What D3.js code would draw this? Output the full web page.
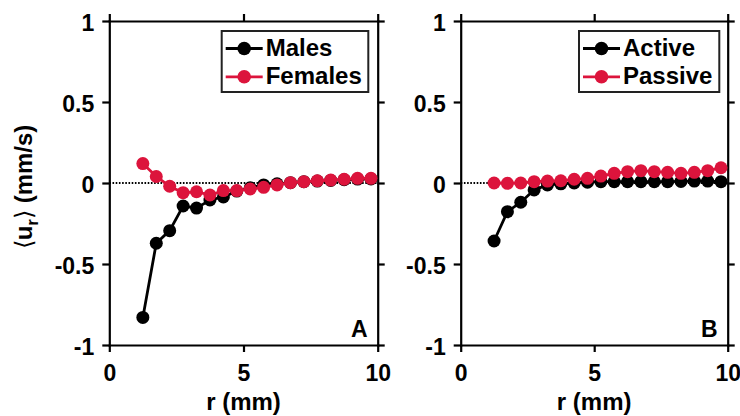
<!DOCTYPE html>
<html>
<head>
<meta charset="utf-8">
<script src="https://cdn.jsdelivr.net/npm/d3@7"></script>
<style>
  body { margin: 0; background: #fff; }
  svg { display: block; font-family: "Liberation Sans", Arial, sans-serif; font-weight: bold; }
</style>
</head>
<body>
<svg id="chart" width="740" height="416"></svg>
<script>
// radial positions (mm)
var radius = [1.25, 1.75, 2.25, 2.75, 3.25, 3.75, 4.25, 4.75, 5.25, 5.75, 6.25, 6.75, 7.25, 7.75, 8.25, 8.75, 9.25, 9.75];

// panel A
var males   = [-0.83, -0.372, -0.294, -0.142, -0.155, -0.105, -0.086, -0.05, -0.03, -0.012, -0.005, 0.002, 0.008, 0.012, 0.016, 0.02, 0.024, 0.025];
var females = [0.12, 0.04, -0.02, -0.06, -0.054, -0.074, -0.047, -0.047, -0.037, -0.027, -0.012, 0.002, 0.008, 0.014, 0.018, 0.023, 0.029, 0.029];

// panel B
var active  = [-0.358, -0.177, -0.119, -0.043, -0.012, -0.005, 0.0, 0.005, 0.008, 0.008, 0.008, 0.008, 0.008, 0.008, 0.01, 0.012, 0.012, 0.008];
var passive = [0.0, -0.002, 0.0, 0.008, 0.012, 0.014, 0.023, 0.029, 0.043, 0.06, 0.07, 0.076, 0.07, 0.066, 0.06, 0.066, 0.076, 0.094];

var xTicks = [0, 5, 10];
var xTickLabels = ["0", "5", "10"];
var yTicks = [-1, -0.5, 0, 0.5, 1];
var yTickLabels = ["-1", "-0.5", "0", "0.5", "1"];

var RED = "#dc143c";
var svg = d3.select("#chart");

var plotTop = 21, plotBottom = 345;
var y = d3.scaleLinear().domain([-1, 1]).range([plotBottom, plotTop]);

function drawPanel(left, right, series, letter, legendBox) {
    var x = d3.scaleLinear().domain([0, 10]).range([left, right]);
    var g = svg.append("g");

    // dotted zero line
    g.append("line")
        .attr("x1", x(0)).attr("x2", x(10))
        .attr("y1", y(0)).attr("y2", y(0))
        .attr("stroke", "#000").attr("stroke-width", 2)
        .attr("stroke-dasharray", "1.6,1.6");

    // axes, ticks outward on all four sides
    function styleAxis(a) {
        a.select(".domain").attr("stroke-width", 2.2).attr("stroke-linecap", "square");
        a.selectAll(".tick line").attr("stroke-width", 2.2);
        a.selectAll("text").attr("font-size", 23).attr("font-family", null).attr("fill", "#000");
    }
    var xFmt = function (d, i) { return xTickLabels[i]; };
    var yFmt = function (d, i) { return yTickLabels[i]; };

    var ax = g.append("g").attr("transform", "translate(0," + plotBottom + ")")
        .call(d3.axisBottom(x).tickValues(xTicks).tickFormat(xFmt).tickSize(7).tickSizeOuter(0).tickPadding(13));
    styleAxis(ax);
    var at = g.append("g").attr("transform", "translate(0," + plotTop + ")")
        .call(d3.axisTop(x).tickValues(xTicks).tickFormat("").tickSize(7).tickSizeOuter(0));
    styleAxis(at);
    var al = g.append("g").attr("transform", "translate(" + left + ",0)")
        .call(d3.axisLeft(y).tickValues(yTicks).tickFormat(yFmt).tickSize(7).tickSizeOuter(0).tickPadding(8));
    styleAxis(al);
    al.selectAll("text").attr("dy", "0.4em");
    var ar = g.append("g").attr("transform", "translate(" + right + ",0)")
        .call(d3.axisRight(y).tickValues(yTicks).tickFormat("").tickSize(7).tickSizeOuter(0));
    styleAxis(ar);

    // series: black first, red on top
    var line = d3.line().x(function (d, i) { return x(radius[i]); }).y(function (d) { return y(d); });
    series.forEach(function (s) {
        g.append("path").datum(s.values)
            .attr("d", line).attr("fill", "none")
            .attr("stroke", s.color).attr("stroke-width", 2.8);
        g.selectAll(null).data(s.values).enter().append("circle")
            .attr("cx", function (d, i) { return x(radius[i]); })
            .attr("cy", function (d) { return y(d); })
            .attr("r", 6.5).attr("fill", s.color);
    });

    // panel letter
    g.append("text").attr("x", right - 10).attr("y", 337)
        .attr("text-anchor", "end").attr("font-size", 23).text(letter);

    // x label
    g.append("text").attr("x", x(5)).attr("y", 410)
        .attr("text-anchor", "middle").attr("font-size", 24).text("r (mm)");

    // legend
    var lg = g.append("g");
    lg.append("rect")
        .attr("x", legendBox.x).attr("y", 31)
        .attr("width", legendBox.w).attr("height", 61)
        .attr("fill", "#fff").attr("stroke", "#222").attr("stroke-width", 2);
    series.forEach(function (s, i) {
        var cy = 48.5 + i * 28.3;
        lg.append("line")
            .attr("x1", legendBox.x + 4).attr("x2", legendBox.x + 41)
            .attr("y1", cy).attr("y2", cy)
            .attr("stroke", s.color).attr("stroke-width", 2.8);
        lg.append("circle").attr("cx", legendBox.x + 22.5).attr("cy", cy)
            .attr("r", 6.8).attr("fill", s.color);
        lg.append("text").attr("x", legendBox.x + 44).attr("y", cy + 7.5)
            .attr("font-size", 24).text(s.name);
    });
}

drawPanel(109.3, 377.7,
    [{ name: "Males", values: males, color: "#000" }, { name: "Females", values: females, color: RED }],
    "A", { x: 221.7, w: 146.6 });
drawPanel(460.7, 727.7,
    [{ name: "Active", values: active, color: "#000" }, { name: "Passive", values: passive, color: RED }],
    "B", { x: 579, w: 140.3 });

// y label
var yl = svg.append("text")
    .attr("transform", "translate(32,187) rotate(-90)")
    .attr("text-anchor", "middle").attr("font-size", 24);
yl.append("tspan").attr("font-weight", "normal").text("\u27e8");
yl.append("tspan").text("u");
yl.append("tspan").attr("font-size", 17).attr("dy", 6).text("r");
yl.append("tspan").attr("font-weight", "normal").attr("dy", -6).text("\u27e9");
yl.append("tspan").text(" (mm/s)");
</script>
</body>
</html>
